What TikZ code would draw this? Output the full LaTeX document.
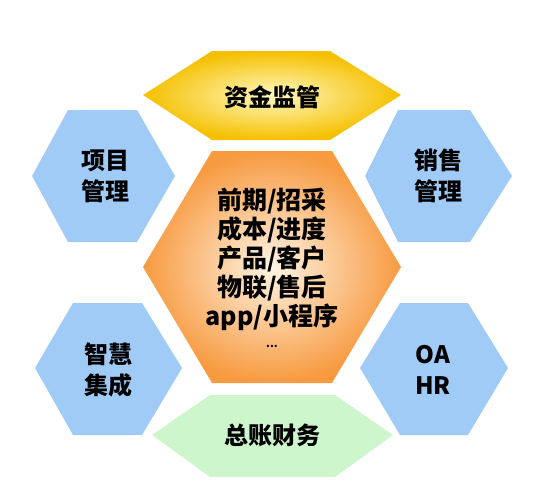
\documentclass[tikz,border=0pt]{standalone}
\usepackage{fontspec}
\newfontfamily\cjk{Noto Sans CJK SC}
\definecolor{hexblue}{HTML}{A0CBF7}
\definecolor{goldout}{HTML}{F5C000}
\definecolor{goldin}{HTML}{FFF8C0}
\definecolor{orangeout}{HTML}{F79A40}
\definecolor{orangein}{HTML}{FFF4E4}
\definecolor{hexgreen}{HTML}{CDF6CD}
\tikzset{
  label text/.style={font=\cjk\bfseries\fontsize{24}{31}\selectfont, align=center, text=black},
  blue hex/.style={fill=hexblue},
}
\begin{document}
\begin{tikzpicture}[x=1pt,y=-1pt]
        \useasboundingbox (0,0) rectangle (545,485);
        % top and bottom bars
        \shade[inner color=goldin, outer color=goldout] (143,95) -- (212,51) -- (330,51) -- (401,95) -- (330,140) -- (212,140) -- cycle;
        \fill[hexgreen] (152,435) -- (210,395) -- (335,395) -- (393,435) -- (335,477) -- (210,477) -- cycle;
        % centre
        \shade[inner color=orangein, outer color=orangeout] (143,267) -- (212,151) -- (332,151) -- (401,267) -- (332,383) -- (212,383) -- cycle;
        % side hexagons
        \fill[blue hex] (32,176) -- (68,110) -- (137,110) -- (175,176) -- (137,242) -- (68,242) -- cycle;
        \fill[blue hex] (365,176) -- (398,110) -- (470,110) -- (512,176) -- (470,242) -- (398,242) -- cycle;
        \fill[blue hex] (35,368) -- (73,303) -- (142,303) -- (182,368) -- (142,435) -- (73,435) -- cycle;
        \fill[blue hex] (360,368) -- (400,303) -- (468,303) -- (508,368) -- (468,435) -- (400,435) -- cycle;
        % texts
        \node[label text] (fund) at (272,97) {资金监管};
        \node[label text] (ledger) at (272,435) {总账财务};
        \node[label text] (project) at (105,176) {项目\\管理};
        \node[label text] (sales) at (438,176) {销售\\管理};
        \node[label text] (smart) at (108,370) {智慧\\集成};
        \node[label text] (oa) at (433,370) {OA\\HR};
        \node[label text, font=\cjk\bfseries\fontsize{25}{29}\selectfont] (core) at (272,259) {前期/招采\\成本/进度\\产品/客户\\物联/售后\\app/小程序};
        \node[label text, font=\cjk\bfseries\fontsize{11}{11}\selectfont] (more) at (272,346) {...};
    \end{tikzpicture}
\end{document}
